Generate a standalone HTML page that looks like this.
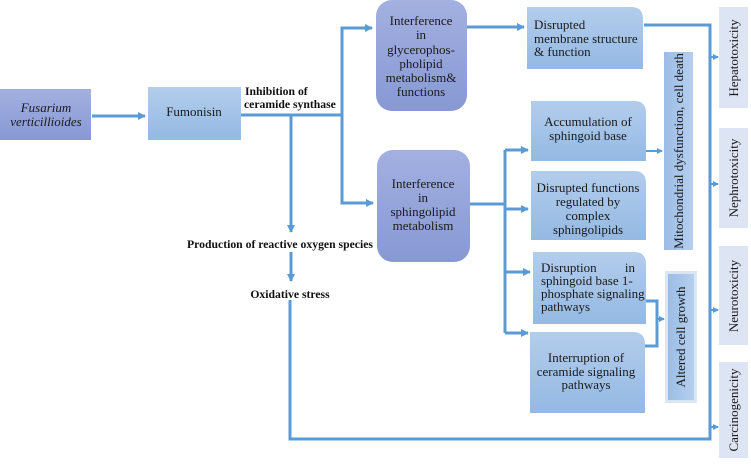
<!DOCTYPE html>
<html><head><meta charset="utf-8"><style>
html,body{margin:0;padding:0;background:#fff;}
svg{display:block;font-family:"Liberation Serif",serif;}
</style></head><body>
<svg width="751" height="465" viewBox="0 0 751 465" xmlns="http://www.w3.org/2000/svg">
<defs>
<linearGradient id="pur" x1="0" y1="0" x2="0" y2="1"><stop offset="0" stop-color="#a3b0e0"/><stop offset="1" stop-color="#8798d4"/></linearGradient>
<linearGradient id="blu" x1="0" y1="0" x2="0" y2="1"><stop offset="0" stop-color="#b3cdec"/><stop offset="1" stop-color="#94b9e3"/></linearGradient>
<linearGradient id="bluh" x1="0" y1="0" x2="1" y2="0"><stop offset="0" stop-color="#9bbde6"/><stop offset="1" stop-color="#b6cfee"/></linearGradient>
<marker id="ar" markerWidth="8" markerHeight="8" refX="7" refY="4" orient="auto" markerUnits="userSpaceOnUse"><path d="M0,0 L8,4 L0,8 z" fill="#5b9bd5"/></marker>
<marker id="as" markerWidth="6" markerHeight="6" refX="5" refY="3" orient="auto" markerUnits="userSpaceOnUse"><path d="M0,0 L6,3 L0,6 z" fill="#5b9bd5"/></marker>
</defs>

<rect x="0" y="89" width="91" height="51" fill="url(#pur)"/>
<rect x="148" y="87" width="93" height="53" fill="url(#blu)"/>
<rect x="376" y="0" width="91" height="111" rx="16" fill="url(#pur)"/>
<rect x="377" y="150" width="93" height="112" rx="16" fill="url(#pur)"/>
<path d="M527,7 H631 Q643,7 643,19 V69 H527 Z" fill="url(#blu)"/>
<path d="M531,101 H634 Q646,101 646,113 V161 H531 Z" fill="url(#blu)"/>
<path d="M531,171 H634 Q646,171 646,183 V240 H531 Z" fill="url(#blu)"/>
<path d="M533,252 H634 Q646,252 646,264 V324 H533 Z" fill="url(#blu)"/>
<path d="M530,332 H633 Q645,332 645,344 V413 H530 Z" fill="url(#blu)"/>
<rect x="664" y="52" width="29" height="198" fill="url(#bluh)"/>
<rect x="665" y="271" width="32" height="132" fill="#dbe6f5"/>
<rect x="668" y="274" width="26" height="126" fill="url(#bluh)"/>
<rect x="719" y="7" width="29" height="101" fill="#dde5f4"/>
<rect x="719" y="128" width="29" height="100" fill="#dde5f4"/>
<rect x="719" y="246" width="29" height="99" fill="#dde5f4"/>
<rect x="719" y="362" width="29" height="96" fill="#dde5f4"/>

<g stroke="#5b9bd5" stroke-width="3" fill="none">
<line x1="92" y1="116" x2="145" y2="116" marker-end="url(#ar)"/>
<polyline points="241,115 342,115"/>
<polyline points="342,115 342,28 372,28" marker-end="url(#ar)"/>
<polyline points="342,115 342,203 373,203" marker-end="url(#ar)"/>
<line x1="291" y1="115" x2="291" y2="232" marker-end="url(#ar)"/>
<line x1="291" y1="252" x2="291" y2="281" marker-end="url(#ar)"/>
<polyline points="290,300 290,439 710,439 710,25 644,25"/>
<line x1="467" y1="27" x2="524" y2="27" marker-end="url(#ar)"/>
<line x1="470" y1="204" x2="505" y2="204"/>
<polyline points="505,150 505,333"/>
<line x1="505" y1="150" x2="528" y2="150" marker-end="url(#ar)"/>
<line x1="505" y1="209" x2="528" y2="209" marker-end="url(#ar)"/>
<line x1="505" y1="272" x2="530" y2="272" marker-end="url(#ar)"/>
<line x1="505" y1="333" x2="528" y2="333" marker-end="url(#ar)"/>
<polyline points="646,301 657,301 657,346 645,346"/>
</g>
<g stroke="#5b9bd5" stroke-width="2" fill="none">
<line x1="646" y1="151" x2="662" y2="151" marker-end="url(#as)"/>
<line x1="657" y1="319" x2="664" y2="319" marker-end="url(#as)"/>
<line x1="710" y1="57" x2="718" y2="57" marker-end="url(#as)"/>
<line x1="710" y1="184" x2="718" y2="184" marker-end="url(#as)"/>
<line x1="710" y1="310" x2="718" y2="310" marker-end="url(#as)"/>
<line x1="710" y1="427" x2="718" y2="427" marker-end="url(#as)"/>
</g>

<g font-size="13" fill="#1a1a1a" text-anchor="middle">
<text x="46" y="112" font-style="italic">Fusarium</text>
<text x="46" y="126" font-style="italic">verticillioides</text>
<text x="194" y="116">Fumonisin</text>
<text x="421" y="25">Interference</text>
<text x="421" y="39">in</text>
<text x="421" y="54">glycerophos-</text>
<text x="421" y="68">pholipid</text>
<text x="421" y="82">metabolism&amp;</text>
<text x="421" y="96">functions</text>
<text x="423" y="188">Interference</text>
<text x="423" y="202">in</text>
<text x="423" y="216">sphingolipid</text>
<text x="423" y="230">metabolism</text>
<text x="588" y="126">Accumulation of</text>
<text x="588" y="140">sphingoid base</text>
<text x="588" y="192">Disrupted functions</text>
<text x="588" y="206">regulated by</text>
<text x="588" y="220">complex</text>
<text x="588" y="234">sphingolipids</text>
<text x="586" y="362">Interruption of</text>
<text x="586" y="376">ceramide signaling</text>
<text x="586" y="389">pathways</text>
</g>
<g font-size="13" fill="#1a1a1a">
<text x="534" y="29">Disrupted</text>
<text x="534" y="43">membrane  structure</text>
<text x="534" y="56">&amp; function</text>
<text x="541" y="272">Disruption</text><text x="635" y="272" text-anchor="end">in</text>
<text x="541" y="285">sphingoid  base  1-</text>
<text x="541" y="298">phosphate  signaling</text>
<text x="541" y="311">pathways</text>
</g>
<g font-size="11.7" fill="#111" font-weight="bold">
<text x="245" y="95">Inhibition of</text>
<text x="244" y="108">ceramide synthase</text>
<text x="280" y="248" text-anchor="middle">Production of reactive oxygen species</text>
<text x="290" y="298" text-anchor="middle">Oxidative stress</text>
</g>
<g font-size="13" fill="#1a1a1a" text-anchor="middle">
<text transform="translate(683,151) rotate(-90)">Mitochondrial dysfunction, cell death</text>
<text transform="translate(685,337) rotate(-90)">Altered cell growth</text>
<text transform="translate(738,58) rotate(-90)">Hepatotoxicity</text>
<text transform="translate(738,178) rotate(-90)">Nephrotoxicity</text>
<text transform="translate(738,296) rotate(-90)">Neurotoxicity</text>
<text transform="translate(738,410) rotate(-90)">Carcinogenicity</text>
</g>
</svg>
</body></html>
